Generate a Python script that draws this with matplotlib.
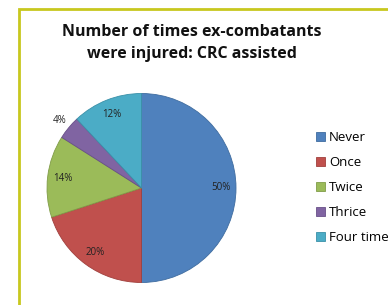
import matplotlib
matplotlib.use("Agg")
import matplotlib.pyplot as plt
from matplotlib.lines import Line2D
from matplotlib.patches import Patch
import numpy as np

categories = ["Never", "Once", "Twice", "Thrice", "Four times"]
values = [50, 20, 14, 4, 12]
colors = ["#4F81BD", "#C0504D", "#9BBB59", "#8064A2", "#4BACC6"]
edges = ["#3F6C9F", "#A03F3C", "#809C48", "#684F88", "#3A90A8"]
title = "Number of times ex-combatants\nwere injured: CRC assisted"

plt.rcParams['font.family'] = ['Open Sans', 'DejaVu Sans']

W, H = 388, 305
fig = plt.figure(figsize=(W / 100, H / 100), dpi=100)
fig.patch.set_facecolor("white")

# border (frame) lines
fig.add_artist(Line2D([19 / W, 19 / W, 1.0], [0.0, 1 - 9 / H, 1 - 9 / H],
                      transform=fig.transFigure, color="#C8C81E", lw=2.0,
                      solid_joinstyle="miter"))

cx, cy, r = 141.5, 188.0, 94.5
ax = fig.add_axes([(cx - r) / W, (H - cy - r) / H, 2 * r / W, 2 * r / H])
wedges, texts, autotexts = ax.pie(values, colors=colors, startangle=90,
                                  counterclock=False, radius=1,
                                  autopct=lambda p: f"{p:.0f}%",
                                  pctdistance=0.84,
                                  wedgeprops=dict(linewidth=0.6),
                                  textprops=dict(fontsize=7, color="#222222"))
for w, e in zip(wedges, edges):
    w.set_edgecolor(e)
# small slice label outside
t = autotexts[3]
ang = np.deg2rad((wedges[3].theta1 + wedges[3].theta2) / 2)
t.set_position((1.12 * np.cos(ang), 1.12 * np.sin(ang)))
ax.set_xlim(-1, 1)
ax.set_ylim(-1, 1)
ax.set_aspect("equal")
ax.axis("off")

fig.text(192 / W, 1 - 43 / H, title, ha="center", va="center",
         fontsize=11.5, fontweight="bold", linespacing=1.5, color="#111111")

handles = [Patch(facecolor=c, edgecolor=e, linewidth=0.6) for c, e in zip(colors, edges)]
leg = fig.legend(handles, categories, loc="upper left",
                 bbox_to_anchor=(316 / W, 1 - 131 / H), frameon=False,
                 fontsize=9.5, handlelength=0.68, handleheight=0.68,
                 handletextpad=0.3, labelspacing=0.91, borderaxespad=0,
                 borderpad=0)

fig.savefig("out.png", dpi=100)
